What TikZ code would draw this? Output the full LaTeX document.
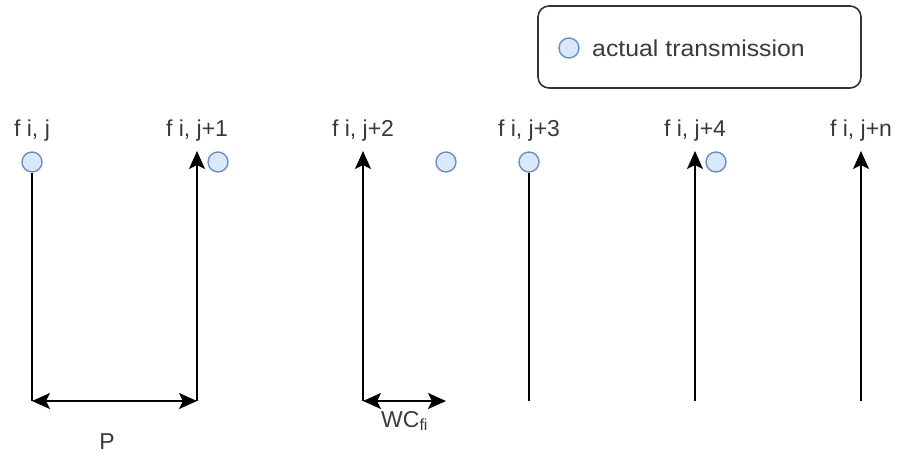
\documentclass[tikz,border=0pt]{standalone}
\usepackage{fontspec}
\setmainfont{Liberation Sans}
\usetikzlibrary{arrows.meta}
\definecolor{txt}{HTML}{3A3A3A}
\definecolor{dotfill}{HTML}{DAE8FC}
\definecolor{dotline}{HTML}{6C8EBF}
\begin{document}
\begin{tikzpicture}[x=1pt,y=-1pt,
  dot/.style={circle,draw=dotline,fill=dotfill,line width=1.4pt,minimum size=20pt,inner sep=0pt},
  lbl/.style={text=txt,font=\fontsize{23}{26}\selectfont,inner sep=0pt},
  slot/.style={line width=2pt,draw=black},
  tip/.style={},
  arr/.style={slot,-{Stealth[length=18pt,width=16pt,inset=4pt]}},
  dbl/.style={slot,{Stealth[length=18pt,width=16pt,inset=4pt]}-{Stealth[length=18pt,width=16pt,inset=4pt]}},
  legendbox/.style={draw=black!80,line width=1.6pt,rounded corners=11pt}]
\useasboundingbox (0,0) rectangle (899,456);
\fill[white] (0,0) rectangle (899,456);

% legend
\draw[legendbox] (538,6) rectangle (861,88);
\node[dot] (lc) at (569,48) {};
\node[lbl,anchor=west] (lt) at (592,48) {\scalebox{1.08}[1]{actual transmission}};

% slot labels
\node[lbl] (l1) at (32,131) {f i, j};
\node[lbl] (l2) at (197,131) {f i, j+1};
\node[lbl] (l3) at (363,131) {f i, j+2};
\node[lbl] (l4) at (529,131) {f i, j+3};
\node[lbl] (l5) at (695,131) {f i, j+4};
\node[lbl] (l6) at (861,131) {f i, j+n};

% actual transmissions
\node[dot] (c1) at (32,162) {};
\node[dot] (c2) at (218,162) {};
\node[dot] (c3) at (446,162) {};
\node[dot] (c4) at (529,162) {};
\node[dot] (c5) at (716,162) {};

% slot line ends
\coordinate (b1) at (32,401);
\coordinate (b2) at (197,401);
\coordinate (b3) at (363,401);
\coordinate (b4) at (529,401);
\coordinate (b5) at (695,401);
\coordinate (b6) at (861,401);
\coordinate (t2) at (197,151);
\coordinate (t3) at (363,151);
\coordinate (t5) at (695,151);
\coordinate (t6) at (861,151);
\coordinate (w) at (446,401);

% slot lines
\draw[slot] (c1.south) -- (b1);
\draw[arr] (b2) -- (t2);
\draw[arr] (b3) -- (t3);
\draw[slot] (c4.south) -- (b4);
\draw[arr] (b5) -- (t5);
\draw[arr] (b6) -- (t6);

% period and contention window
\draw[dbl] (b1) -- (b2);
\draw[dbl] (b3) -- (w);
\node[lbl] (p) at (107,442) {P};
\node[lbl,anchor=west] (wc) at (381,421) {WC$_{\mathrm{fi}}$};
\end{tikzpicture}
\end{document}
